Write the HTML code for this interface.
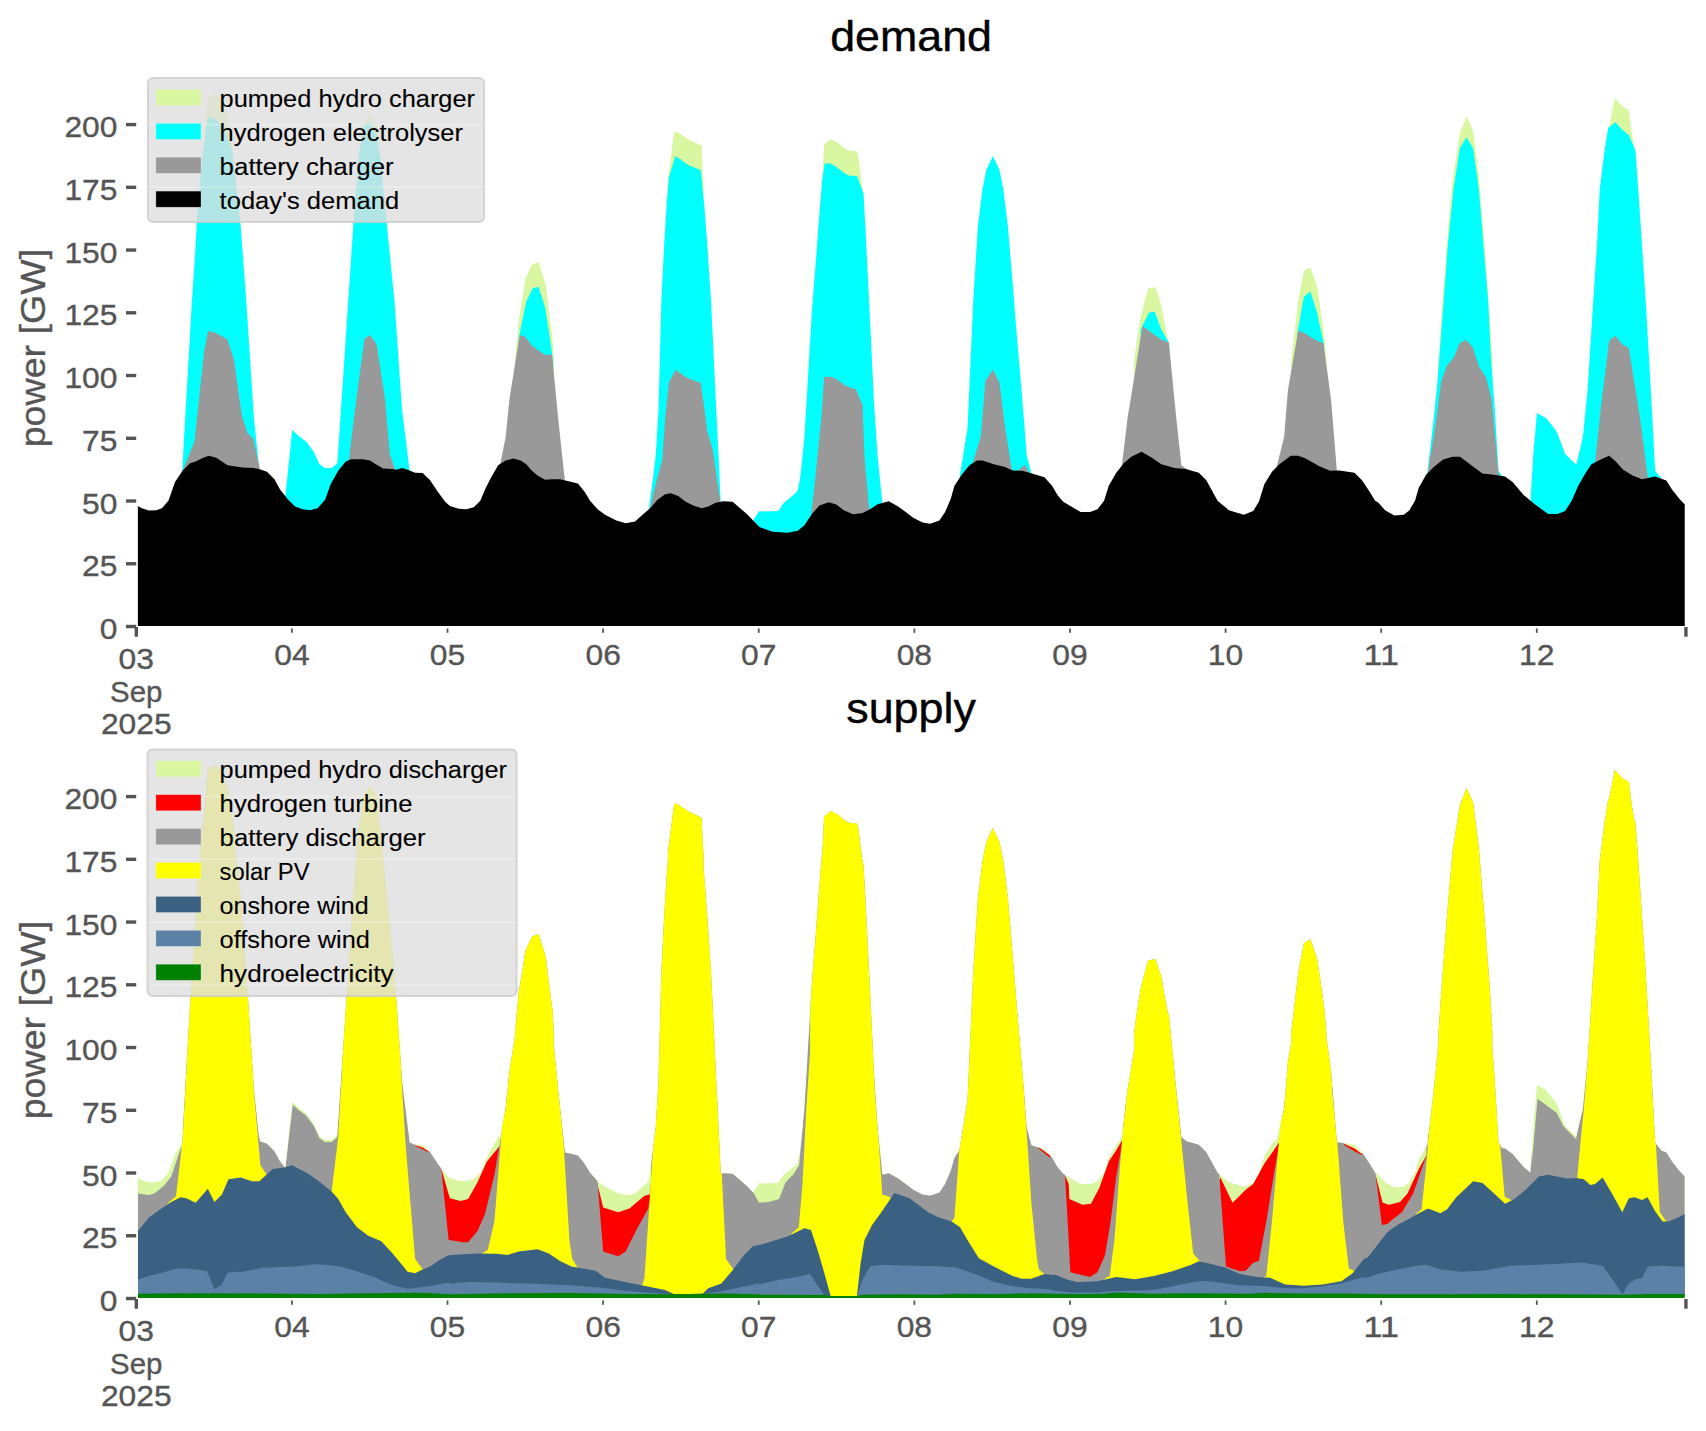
<!DOCTYPE html>
<html><head><meta charset="utf-8"><style>
html,body{margin:0;padding:0;background:#fff;}
svg{display:block;font-family:"Liberation Sans", sans-serif;}
</style></head><body>
<svg width="1706" height="1431" viewBox="0 0 1706 1431">
<rect width="1706" height="1431" fill="#fff"/>
<path d="M202.90,624.50 L202.90,157.70 L206.20,116.30 L207.90,96.20 L214.00,93.70 L218.50,96.20 L223.60,106.30 L228.00,118.60 L231.40,140.90 L234.70,163.30 L234.70,624.50 Z" fill="#D9F7A0"/>
<path d="M361.65,624.50 L361.65,127.83 L370.09,113.76 L377.97,127.83 L377.97,624.50 Z" fill="#D9F7A0"/>
<path d="M515.03,624.50 L515.03,361.35 L518.78,320.09 L522.53,297.58 L525.35,278.82 L531.91,264.75 L538.48,261.94 L542.23,273.19 L545.98,286.32 L548.79,310.71 L552.54,338.85 L553.86,361.35 L553.86,624.50 Z" fill="#D9F7A0"/>
<path d="M667.90,624.50 L667.90,181.28 L674.09,132.51 L676.34,131.58 L689.47,140.02 L701.66,145.64 L702.60,170.03 L703.54,183.16 L703.54,624.50 Z" fill="#D9F7A0"/>
<path d="M822.22,624.50 L822.22,185.04 L824.09,144.71 L830.66,139.08 L838.16,142.83 L844.72,148.46 L850.35,150.90 L856.92,151.27 L858.42,156.90 L861.61,183.16 L863.48,193.48 L863.48,624.50 Z" fill="#D9F7A0"/>
<path d="M1134.09,624.50 L1134.09,361.35 L1135.97,346.35 L1140.66,316.34 L1148.16,288.20 L1155.66,287.26 L1161.29,305.08 L1165.04,325.72 L1168.79,346.35 L1170.67,361.35 L1170.67,624.50 Z" fill="#D9F7A0"/>
<path d="M1291.09,624.50 L1291.09,361.35 L1298.22,301.33 L1303.85,271.32 L1310.41,267.19 L1316.98,286.32 L1320.73,310.71 L1324.48,338.85 L1326.35,361.35 L1326.35,624.50 Z" fill="#D9F7A0"/>
<path d="M1438.46,624.50 L1438.46,361.35 L1441.28,320.09 L1446.91,245.06 L1452.53,179.41 L1460.04,132.51 L1466.60,116.01 L1473.17,130.64 L1478.79,175.66 L1484.42,245.06 L1490.05,320.09 L1492.30,361.35 L1492.30,624.50 Z" fill="#D9F7A0"/>
<path d="M1608.59,624.50 L1608.59,130.64 L1609.16,126.89 L1614.78,97.81 L1622.29,106.25 L1628.85,110.01 L1631.66,132.51 L1634.48,149.40 L1634.85,151.27 L1634.85,624.50 Z" fill="#D9F7A0"/>
<path d="M181.02,624.50 L181.02,474.54 L182.15,470.79 L191.90,301.33 L194.71,260.06 L197.53,211.30 L202.22,156.90 L207.84,117.13 L214.03,118.45 L220.60,124.07 L227.16,136.27 L232.23,151.27 L235.04,173.78 L240.67,226.30 L246.30,301.33 L253.80,416.40 L259.80,474.54 L259.80,624.50 Z" fill="#00FFFF"/>
<path d="M284.94,624.50 L284.94,497.05 L285.69,493.30 L292.25,429.90 L298.82,436.09 L306.32,441.72 L313.82,452.04 L319.45,464.23 L325.08,467.98 L331.64,467.98 L337.27,463.29 L339.14,437.03 L347.58,310.71 L353.21,226.30 L358.84,155.02 L364.47,125.01 L370.09,122.20 L375.72,132.51 L380.41,156.90 L386.98,226.30 L394.48,301.33 L401.98,408.89 L409.86,472.67 L409.86,624.50 Z" fill="#00FFFF"/>
<path d="M518.78,624.50 L518.78,338.85 L519.72,333.22 L526.28,301.33 L532.85,288.20 L538.48,286.70 L545.04,306.96 L548.79,331.34 L552.17,353.85 L553.11,361.35 L553.11,624.50 Z" fill="#00FFFF"/>
<path d="M648.58,624.50 L648.58,512.06 L655.71,455.79 L658.52,408.89 L661.34,301.33 L664.15,245.06 L666.96,200.04 L668.84,177.53 L675.40,155.96 L688.53,165.34 L700.73,170.03 L704.48,207.54 L707.29,245.06 L711.04,301.33 L716.67,418.27 L719.48,474.54 L720.80,504.56 L720.80,624.50 Z" fill="#00FFFF"/>
<path d="M751.88,624.50 L751.88,522.38 L759.38,511.12 L763.13,511.50 L778.14,511.12 L783.76,502.68 L793.14,495.18 L797.83,490.49 L800.64,474.54 L804.40,437.03 L807.21,390.14 L811.90,310.71 L815.65,263.82 L818.46,226.30 L822.22,179.41 L824.65,163.46 L830.66,163.46 L838.16,168.15 L843.79,172.84 L849.41,175.66 L856.92,176.03 L863.48,193.48 L865.36,226.30 L868.17,282.57 L870.98,338.85 L873.80,399.51 L877.55,455.79 L882.24,501.74 L883.55,506.43 L883.55,624.50 Z" fill="#00FFFF"/>
<path d="M959.14,624.50 L959.14,480.17 L967.58,427.65 L973.21,301.33 L977.90,226.30 L982.59,188.79 L986.34,170.03 L992.91,155.96 L999.47,170.03 L1003.22,188.79 L1007.91,226.30 L1012.60,282.57 L1016.35,329.47 L1023.86,418.27 L1026.67,455.79 L1031.74,474.54 L1031.74,624.50 Z" fill="#00FFFF"/>
<path d="M1140.66,624.50 L1140.66,331.34 L1141.59,327.59 L1149.10,312.58 L1154.72,311.65 L1161.29,329.47 L1168.42,341.66 L1169.17,344.47 L1169.17,624.50 Z" fill="#00FFFF"/>
<path d="M1297.28,624.50 L1297.28,334.16 L1297.84,331.34 L1303.85,296.64 L1310.41,291.58 L1316.98,312.58 L1323.54,342.60 L1324.10,345.41 L1324.10,624.50 Z" fill="#00FFFF"/>
<path d="M1427.21,624.50 L1427.21,474.54 L1433.77,418.27 L1437.53,380.76 L1442.22,320.09 L1447.84,245.06 L1453.47,188.79 L1460.04,147.52 L1466.60,137.20 L1473.17,148.46 L1478.79,188.79 L1483.48,245.06 L1488.17,301.33 L1490.98,357.60 L1494.74,408.89 L1498.49,470.79 L1501.68,475.48 L1501.68,624.50 Z" fill="#00FFFF"/>
<path d="M1530.38,624.50 L1530.38,502.68 L1533.19,455.79 L1536.94,413.02 L1546.32,418.27 L1556.64,431.40 L1565.08,453.91 L1576.33,464.79 L1582.90,437.03 L1587.58,390.14 L1593.21,301.33 L1596.96,245.06 L1599.78,188.79 L1604.47,151.27 L1608.22,127.83 L1615.35,122.20 L1622.29,129.70 L1628.85,135.33 L1635.42,150.33 L1638.23,188.79 L1641.98,245.06 L1645.73,301.33 L1651.36,399.51 L1655.11,470.79 L1661.11,478.30 L1661.11,624.50 Z" fill="#00FFFF"/>
<path d="M181.50,624.50 L181.50,475.00 L182.30,471.50 L194.50,441.50 L200.00,389.70 L204.10,351.60 L208.10,331.10 L215.00,332.50 L227.20,339.30 L234.00,359.80 L238.10,389.70 L242.20,417.00 L247.70,433.30 L253.10,438.80 L259.90,468.70 L260.50,475.00 L260.50,624.50 Z" fill="#999999"/>
<path d="M348.52,624.50 L348.52,462.35 L355.09,408.89 L364.47,338.85 L370.09,335.09 L376.66,344.47 L385.10,399.51 L389.79,453.91 L395.79,471.73 L395.79,624.50 Z" fill="#999999"/>
<path d="M499.65,624.50 L499.65,467.04 L505.65,437.03 L509.40,399.51 L519.72,334.72 L525.35,337.34 L532.29,345.97 L545.42,355.35 L551.98,354.23 L558.17,418.27 L563.80,470.79 L565.11,482.05 L565.11,624.50 Z" fill="#999999"/>
<path d="M649.14,624.50 L649.14,512.06 L655.71,483.92 L662.27,459.54 L665.09,418.27 L668.84,382.63 L675.40,369.88 L687.60,377.94 L700.73,383.01 L704.48,408.89 L707.29,431.40 L712.92,450.16 L717.61,483.92 L720.80,504.56 L720.80,624.50 Z" fill="#999999"/>
<path d="M810.96,624.50 L810.96,515.81 L815.65,474.54 L821.28,418.27 L824.09,377.01 L830.66,376.63 L836.28,378.88 L843.79,384.51 L851.29,388.26 L855.98,389.20 L862.54,405.14 L864.42,455.79 L869.48,512.06 L869.48,624.50 Z" fill="#999999"/>
<path d="M972.27,624.50 L972.27,464.23 L980.72,437.03 L985.40,380.76 L992.91,369.50 L999.47,382.63 L1005.10,427.65 L1012.04,470.79 L1018.23,470.79 L1024.79,464.79 L1029.86,473.61 L1029.86,624.50 Z" fill="#999999"/>
<path d="M1121.90,624.50 L1121.90,465.17 L1127.53,418.27 L1142.53,326.09 L1153.79,334.16 L1161.29,339.78 L1168.79,342.22 L1176.30,418.27 L1181.36,465.17 L1187.55,469.85 L1187.55,624.50 Z" fill="#999999"/>
<path d="M1276.65,624.50 L1276.65,467.04 L1284.15,437.03 L1287.90,390.14 L1298.22,330.40 L1303.85,332.84 L1315.10,339.78 L1323.54,343.53 L1331.04,399.51 L1337.05,472.67 L1337.05,624.50 Z" fill="#999999"/>
<path d="M1426.50,624.50 L1426.50,480.00 L1427.80,472.00 L1434.50,431.70 L1439.00,398.20 L1441.20,381.50 L1446.80,365.80 L1453.50,358.00 L1459.70,342.90 L1465.80,340.10 L1472.50,346.80 L1479.20,366.90 L1485.90,377.00 L1491.50,398.20 L1498.20,470.80 L1500.00,478.00 L1500.00,624.50 Z" fill="#999999"/>
<path d="M1595.09,624.50 L1595.09,462.35 L1600.72,408.89 L1609.16,340.72 L1615.35,335.66 L1622.29,344.47 L1628.85,348.22 L1640.11,418.27 L1647.98,478.30 L1647.98,624.50 Z" fill="#999999"/>
<path d="M137.88,626.00 L137.88,506.06 L141.25,507.93 L148.76,510.56 L156.26,510.18 L161.89,508.31 L168.45,500.80 L175.02,482.05 L182.52,470.79 L190.02,463.29 L195.65,461.41 L203.15,457.66 L208.78,455.79 L216.28,457.66 L227.54,465.17 L242.54,467.42 L253.80,467.98 L261.30,469.85 L266.93,471.73 L274.43,479.23 L280.06,489.55 L287.56,498.93 L295.06,506.43 L302.57,509.25 L310.07,510.18 L317.57,508.31 L325.08,499.87 L330.70,483.92 L338.21,470.79 L345.71,461.41 L351.34,459.16 L362.59,459.16 L370.09,460.48 L375.72,464.23 L383.22,468.54 L392.60,468.92 L396.35,469.85 L401.98,467.98 L407.61,469.85 L415.11,472.67 L422.61,473.04 L430.12,480.17 L437.62,491.43 L445.12,501.74 L449.94,506.06 L458.76,508.68 L466.26,509.25 L473.76,507.37 L480.33,500.80 L485.02,489.55 L490.64,478.30 L498.15,465.17 L505.65,460.48 L513.15,458.60 L520.66,460.48 L526.28,464.23 L531.91,470.79 L537.54,475.48 L545.04,479.80 L552.54,479.23 L560.05,479.23 L567.55,481.11 L577.87,483.55 L584.43,491.43 L590.06,500.80 L597.56,509.25 L605.06,514.87 L616.32,520.50 L625.70,523.31 L635.08,521.44 L642.58,514.87 L650.08,508.31 L657.58,499.87 L665.09,494.24 L670.72,493.30 L678.22,496.11 L685.72,501.74 L693.22,505.49 L701.66,508.31 L708.23,506.43 L715.73,502.68 L723.24,501.18 L732.61,501.74 L740.12,508.31 L747.62,514.87 L759.38,527.06 L772.51,531.75 L787.51,532.69 L797.83,530.82 L804.40,525.19 L811.90,513.93 L819.40,505.49 L828.78,502.30 L836.28,504.56 L843.79,510.18 L853.17,514.31 L862.54,513.00 L870.05,509.25 L877.55,504.18 L888.80,501.18 L898.18,506.43 L905.69,512.06 L913.19,517.69 L922.57,522.38 L930.07,523.69 L939.45,520.50 L945.08,512.06 L950.70,498.93 L954.45,485.80 L961.96,474.54 L969.46,465.17 L976.96,460.48 L982.59,460.48 L993.85,464.23 L1005.10,467.04 L1012.60,470.42 L1021.98,470.79 L1029.48,472.67 L1035.11,474.54 L1044.49,477.36 L1051.99,485.80 L1057.62,495.18 L1063.25,501.74 L1071.25,506.43 L1080.63,512.06 L1090.01,512.06 L1097.51,509.25 L1104.08,500.80 L1108.77,485.80 L1116.27,472.67 L1123.77,463.29 L1131.28,456.72 L1141.59,451.66 L1151.91,457.66 L1161.29,464.23 L1174.42,467.98 L1185.67,468.92 L1198.80,472.67 L1206.31,480.17 L1217.56,500.80 L1228.82,510.18 L1243.82,514.87 L1253.20,511.12 L1258.83,501.74 L1264.45,483.92 L1271.96,471.73 L1279.46,464.23 L1290.72,455.79 L1298.22,455.79 L1305.72,458.60 L1318.85,466.10 L1330.11,470.79 L1339.48,470.42 L1354.49,472.67 L1361.99,480.17 L1369.50,491.43 L1375.12,500.80 L1378.44,502.68 L1385.01,510.18 L1394.38,515.43 L1403.76,514.87 L1409.39,510.18 L1415.02,500.80 L1418.77,487.67 L1426.27,474.54 L1433.77,467.04 L1443.15,459.54 L1452.53,456.72 L1460.04,456.72 L1471.29,465.17 L1482.54,473.61 L1491.92,474.54 L1505.05,476.42 L1512.56,482.05 L1523.81,495.18 L1535.06,504.56 L1548.19,513.93 L1557.57,513.93 L1565.08,511.12 L1571.64,500.80 L1578.21,485.80 L1585.71,472.67 L1591.34,464.23 L1600.72,459.54 L1609.16,455.79 L1615.72,461.41 L1623.22,469.85 L1632.60,475.48 L1641.98,479.23 L1655.11,476.42 L1666.37,480.55 L1671.99,489.55 L1679.50,498.93 L1684.75,504.56 L1684.75,626.00 Z" fill="#000000"/>
<defs><clipPath id="E"><path d="M202.90,1298.00 L202.90,829.70 L206.20,788.30 L207.90,768.20 L214.00,765.70 L218.50,768.20 L223.60,778.30 L228.00,790.60 L231.40,812.90 L234.70,835.30 L234.70,1298.00 Z"/><path d="M361.65,1298.00 L361.65,799.83 L370.09,785.76 L377.97,799.83 L377.97,1298.00 Z"/><path d="M515.03,1298.00 L515.03,1033.35 L518.78,992.09 L522.53,969.58 L525.35,950.82 L531.91,936.75 L538.48,933.94 L542.23,945.19 L545.98,958.32 L548.79,982.71 L552.54,1010.85 L553.86,1033.35 L553.86,1298.00 Z"/><path d="M667.90,1298.00 L667.90,853.28 L674.09,804.51 L676.34,803.58 L689.47,812.02 L701.66,817.64 L702.60,842.03 L703.54,855.16 L703.54,1298.00 Z"/><path d="M822.22,1298.00 L822.22,857.04 L824.09,816.71 L830.66,811.08 L838.16,814.83 L844.72,820.46 L850.35,822.90 L856.92,823.27 L858.42,828.90 L861.61,855.16 L863.48,865.48 L863.48,1298.00 Z"/><path d="M1134.09,1298.00 L1134.09,1033.35 L1135.97,1018.35 L1140.66,988.34 L1148.16,960.20 L1155.66,959.26 L1161.29,977.08 L1165.04,997.72 L1168.79,1018.35 L1170.67,1033.35 L1170.67,1298.00 Z"/><path d="M1291.09,1298.00 L1291.09,1033.35 L1298.22,973.33 L1303.85,943.32 L1310.41,939.19 L1316.98,958.32 L1320.73,982.71 L1324.48,1010.85 L1326.35,1033.35 L1326.35,1298.00 Z"/><path d="M1438.46,1298.00 L1438.46,1033.35 L1441.28,992.09 L1446.91,917.06 L1452.53,851.41 L1460.04,804.51 L1466.60,788.01 L1473.17,802.64 L1478.79,847.66 L1484.42,917.06 L1490.05,992.09 L1492.30,1033.35 L1492.30,1298.00 Z"/><path d="M1608.59,1298.00 L1608.59,802.64 L1609.16,798.89 L1614.78,769.81 L1622.29,778.25 L1628.85,782.01 L1631.66,804.51 L1634.48,821.40 L1634.85,823.27 L1634.85,1298.00 Z"/><path d="M181.02,1298.00 L181.02,1146.54 L182.15,1142.79 L191.90,973.33 L194.71,932.06 L197.53,883.30 L202.22,828.90 L207.84,789.13 L214.03,790.45 L220.60,796.07 L227.16,808.27 L232.23,823.27 L235.04,845.78 L240.67,898.30 L246.30,973.33 L253.80,1088.40 L259.80,1146.54 L259.80,1298.00 Z"/><path d="M284.94,1298.00 L284.94,1169.05 L285.69,1165.30 L292.25,1101.90 L298.82,1108.09 L306.32,1113.72 L313.82,1124.04 L319.45,1136.23 L325.08,1139.98 L331.64,1139.98 L337.27,1135.29 L339.14,1109.03 L347.58,982.71 L353.21,898.30 L358.84,827.02 L364.47,797.01 L370.09,794.20 L375.72,804.51 L380.41,828.90 L386.98,898.30 L394.48,973.33 L401.98,1080.89 L409.86,1144.67 L409.86,1298.00 Z"/><path d="M518.78,1298.00 L518.78,1010.85 L519.72,1005.22 L526.28,973.33 L532.85,960.20 L538.48,958.70 L545.04,978.96 L548.79,1003.34 L552.17,1025.85 L553.11,1033.35 L553.11,1298.00 Z"/><path d="M648.58,1298.00 L648.58,1184.06 L655.71,1127.79 L658.52,1080.89 L661.34,973.33 L664.15,917.06 L666.96,872.04 L668.84,849.53 L675.40,827.96 L688.53,837.34 L700.73,842.03 L704.48,879.54 L707.29,917.06 L711.04,973.33 L716.67,1090.27 L719.48,1146.54 L720.80,1176.56 L720.80,1298.00 Z"/><path d="M751.88,1298.00 L751.88,1194.38 L759.38,1183.12 L763.13,1183.50 L778.14,1183.12 L783.76,1174.68 L793.14,1167.18 L797.83,1162.49 L800.64,1146.54 L804.40,1109.03 L807.21,1062.14 L811.90,982.71 L815.65,935.82 L818.46,898.30 L822.22,851.41 L824.65,835.46 L830.66,835.46 L838.16,840.15 L843.79,844.84 L849.41,847.66 L856.92,848.03 L863.48,865.48 L865.36,898.30 L868.17,954.57 L870.98,1010.85 L873.80,1071.51 L877.55,1127.79 L882.24,1173.74 L883.55,1178.43 L883.55,1298.00 Z"/><path d="M959.14,1298.00 L959.14,1152.17 L967.58,1099.65 L973.21,973.33 L977.90,898.30 L982.59,860.79 L986.34,842.03 L992.91,827.96 L999.47,842.03 L1003.22,860.79 L1007.91,898.30 L1012.60,954.57 L1016.35,1001.47 L1023.86,1090.27 L1026.67,1127.79 L1031.74,1146.54 L1031.74,1298.00 Z"/><path d="M1140.66,1298.00 L1140.66,1003.34 L1141.59,999.59 L1149.10,984.58 L1154.72,983.65 L1161.29,1001.47 L1168.42,1013.66 L1169.17,1016.47 L1169.17,1298.00 Z"/><path d="M1297.28,1298.00 L1297.28,1006.16 L1297.84,1003.34 L1303.85,968.64 L1310.41,963.58 L1316.98,984.58 L1323.54,1014.60 L1324.10,1017.41 L1324.10,1298.00 Z"/><path d="M1427.21,1298.00 L1427.21,1146.54 L1433.77,1090.27 L1437.53,1052.76 L1442.22,992.09 L1447.84,917.06 L1453.47,860.79 L1460.04,819.52 L1466.60,809.20 L1473.17,820.46 L1478.79,860.79 L1483.48,917.06 L1488.17,973.33 L1490.98,1029.60 L1494.74,1080.89 L1498.49,1142.79 L1501.68,1147.48 L1501.68,1298.00 Z"/><path d="M1530.38,1298.00 L1530.38,1174.68 L1533.19,1127.79 L1536.94,1085.02 L1546.32,1090.27 L1556.64,1103.40 L1565.08,1125.91 L1576.33,1136.79 L1582.90,1109.03 L1587.58,1062.14 L1593.21,973.33 L1596.96,917.06 L1599.78,860.79 L1604.47,823.27 L1608.22,799.83 L1615.35,794.20 L1622.29,801.70 L1628.85,807.33 L1635.42,822.33 L1638.23,860.79 L1641.98,917.06 L1645.73,973.33 L1651.36,1071.51 L1655.11,1142.79 L1661.11,1150.30 L1661.11,1298.00 Z"/><path d="M181.50,1298.00 L181.50,1147.00 L182.30,1143.50 L194.50,1113.50 L200.00,1061.70 L204.10,1023.60 L208.10,1003.10 L215.00,1004.50 L227.20,1011.30 L234.00,1031.80 L238.10,1061.70 L242.20,1089.00 L247.70,1105.30 L253.10,1110.80 L259.90,1140.70 L260.50,1147.00 L260.50,1298.00 Z"/><path d="M348.52,1298.00 L348.52,1134.35 L355.09,1080.89 L364.47,1010.85 L370.09,1007.09 L376.66,1016.47 L385.10,1071.51 L389.79,1125.91 L395.79,1143.73 L395.79,1298.00 Z"/><path d="M499.65,1298.00 L499.65,1139.04 L505.65,1109.03 L509.40,1071.51 L519.72,1006.72 L525.35,1009.34 L532.29,1017.97 L545.42,1027.35 L551.98,1026.23 L558.17,1090.27 L563.80,1142.79 L565.11,1154.05 L565.11,1298.00 Z"/><path d="M649.14,1298.00 L649.14,1184.06 L655.71,1155.92 L662.27,1131.54 L665.09,1090.27 L668.84,1054.63 L675.40,1041.88 L687.60,1049.94 L700.73,1055.01 L704.48,1080.89 L707.29,1103.40 L712.92,1122.16 L717.61,1155.92 L720.80,1176.56 L720.80,1298.00 Z"/><path d="M810.96,1298.00 L810.96,1187.81 L815.65,1146.54 L821.28,1090.27 L824.09,1049.01 L830.66,1048.63 L836.28,1050.88 L843.79,1056.51 L851.29,1060.26 L855.98,1061.20 L862.54,1077.14 L864.42,1127.79 L869.48,1184.06 L869.48,1298.00 Z"/><path d="M972.27,1298.00 L972.27,1136.23 L980.72,1109.03 L985.40,1052.76 L992.91,1041.50 L999.47,1054.63 L1005.10,1099.65 L1012.04,1142.79 L1018.23,1142.79 L1024.79,1136.79 L1029.86,1145.61 L1029.86,1298.00 Z"/><path d="M1121.90,1298.00 L1121.90,1137.17 L1127.53,1090.27 L1142.53,998.09 L1153.79,1006.16 L1161.29,1011.78 L1168.79,1014.22 L1176.30,1090.27 L1181.36,1137.17 L1187.55,1141.85 L1187.55,1298.00 Z"/><path d="M1276.65,1298.00 L1276.65,1139.04 L1284.15,1109.03 L1287.90,1062.14 L1298.22,1002.40 L1303.85,1004.84 L1315.10,1011.78 L1323.54,1015.53 L1331.04,1071.51 L1337.05,1144.67 L1337.05,1298.00 Z"/><path d="M1426.50,1298.00 L1426.50,1152.00 L1427.80,1144.00 L1434.50,1103.70 L1439.00,1070.20 L1441.20,1053.50 L1446.80,1037.80 L1453.50,1030.00 L1459.70,1014.90 L1465.80,1012.10 L1472.50,1018.80 L1479.20,1038.90 L1485.90,1049.00 L1491.50,1070.20 L1498.20,1142.80 L1500.00,1150.00 L1500.00,1298.00 Z"/><path d="M1595.09,1298.00 L1595.09,1134.35 L1600.72,1080.89 L1609.16,1012.72 L1615.35,1007.66 L1622.29,1016.47 L1628.85,1020.22 L1640.11,1090.27 L1647.98,1150.30 L1647.98,1298.00 Z"/><path d="M137.88,1298.00 L137.88,1178.06 L141.25,1179.93 L148.76,1182.56 L156.26,1182.18 L161.89,1180.31 L168.45,1172.80 L175.02,1154.05 L182.52,1142.79 L190.02,1135.29 L195.65,1133.41 L203.15,1129.66 L208.78,1127.79 L216.28,1129.66 L227.54,1137.17 L242.54,1139.42 L253.80,1139.98 L261.30,1141.85 L266.93,1143.73 L274.43,1151.23 L280.06,1161.55 L287.56,1170.93 L295.06,1178.43 L302.57,1181.25 L310.07,1182.18 L317.57,1180.31 L325.08,1171.87 L330.70,1155.92 L338.21,1142.79 L345.71,1133.41 L351.34,1131.16 L362.59,1131.16 L370.09,1132.48 L375.72,1136.23 L383.22,1140.54 L392.60,1140.92 L396.35,1141.85 L401.98,1139.98 L407.61,1141.85 L415.11,1144.67 L422.61,1145.04 L430.12,1152.17 L437.62,1163.43 L445.12,1173.74 L449.94,1178.06 L458.76,1180.68 L466.26,1181.25 L473.76,1179.37 L480.33,1172.80 L485.02,1161.55 L490.64,1150.30 L498.15,1137.17 L505.65,1132.48 L513.15,1130.60 L520.66,1132.48 L526.28,1136.23 L531.91,1142.79 L537.54,1147.48 L545.04,1151.80 L552.54,1151.23 L560.05,1151.23 L567.55,1153.11 L577.87,1155.55 L584.43,1163.43 L590.06,1172.80 L597.56,1181.25 L605.06,1186.87 L616.32,1192.50 L625.70,1195.31 L635.08,1193.44 L642.58,1186.87 L650.08,1180.31 L657.58,1171.87 L665.09,1166.24 L670.72,1165.30 L678.22,1168.11 L685.72,1173.74 L693.22,1177.49 L701.66,1180.31 L708.23,1178.43 L715.73,1174.68 L723.24,1173.18 L732.61,1173.74 L740.12,1180.31 L747.62,1186.87 L759.38,1199.06 L772.51,1203.75 L787.51,1204.69 L797.83,1202.82 L804.40,1197.19 L811.90,1185.93 L819.40,1177.49 L828.78,1174.30 L836.28,1176.56 L843.79,1182.18 L853.17,1186.31 L862.54,1185.00 L870.05,1181.25 L877.55,1176.18 L888.80,1173.18 L898.18,1178.43 L905.69,1184.06 L913.19,1189.69 L922.57,1194.38 L930.07,1195.69 L939.45,1192.50 L945.08,1184.06 L950.70,1170.93 L954.45,1157.80 L961.96,1146.54 L969.46,1137.17 L976.96,1132.48 L982.59,1132.48 L993.85,1136.23 L1005.10,1139.04 L1012.60,1142.42 L1021.98,1142.79 L1029.48,1144.67 L1035.11,1146.54 L1044.49,1149.36 L1051.99,1157.80 L1057.62,1167.18 L1063.25,1173.74 L1071.25,1178.43 L1080.63,1184.06 L1090.01,1184.06 L1097.51,1181.25 L1104.08,1172.80 L1108.77,1157.80 L1116.27,1144.67 L1123.77,1135.29 L1131.28,1128.72 L1141.59,1123.66 L1151.91,1129.66 L1161.29,1136.23 L1174.42,1139.98 L1185.67,1140.92 L1198.80,1144.67 L1206.31,1152.17 L1217.56,1172.80 L1228.82,1182.18 L1243.82,1186.87 L1253.20,1183.12 L1258.83,1173.74 L1264.45,1155.92 L1271.96,1143.73 L1279.46,1136.23 L1290.72,1127.79 L1298.22,1127.79 L1305.72,1130.60 L1318.85,1138.10 L1330.11,1142.79 L1339.48,1142.42 L1354.49,1144.67 L1361.99,1152.17 L1369.50,1163.43 L1375.12,1172.80 L1378.44,1174.68 L1385.01,1182.18 L1394.38,1187.43 L1403.76,1186.87 L1409.39,1182.18 L1415.02,1172.80 L1418.77,1159.67 L1426.27,1146.54 L1433.77,1139.04 L1443.15,1131.54 L1452.53,1128.72 L1460.04,1128.72 L1471.29,1137.17 L1482.54,1145.61 L1491.92,1146.54 L1505.05,1148.42 L1512.56,1154.05 L1523.81,1167.18 L1535.06,1176.56 L1548.19,1185.93 L1557.57,1185.93 L1565.08,1183.12 L1571.64,1172.80 L1578.21,1157.80 L1585.71,1144.67 L1591.34,1136.23 L1600.72,1131.54 L1609.16,1127.79 L1615.72,1133.41 L1623.22,1141.85 L1632.60,1147.48 L1641.98,1151.23 L1655.11,1148.42 L1666.37,1152.55 L1671.99,1161.55 L1679.50,1170.93 L1684.75,1176.56 L1684.75,1298.00 Z"/></clipPath></defs>
<g clip-path="url(#E)">
<rect x="130" y="700" width="1570" height="600" fill="#D9F7A0"/>
<path d="M413.24,1296.50 L413.24,1147.48 L415.11,1145.23 L422.61,1147.48 L429.18,1151.80 L430.12,1154.98 L430.12,1296.50 Z" fill="#FF0000"/>
<path d="M440.43,1296.50 L440.43,1178.43 L441.37,1168.68 L448.69,1194.38 L449.94,1198.13 L460.63,1200.94 L468.14,1199.06 L477.51,1182.18 L486.89,1161.55 L500.02,1145.61 L504.71,1116.53 L506.03,1099.65 L507.15,1090.27 L507.15,1296.50 Z" fill="#FF0000"/>
<path d="M595.69,1296.50 L595.69,1187.81 L597.19,1183.12 L603.19,1207.51 L618.19,1212.19 L629.45,1208.44 L644.45,1195.69 L649.71,1194.38 L651.02,1184.06 L651.96,1176.56 L651.96,1296.50 Z" fill="#FF0000"/>
<path d="M1036.99,1296.50 L1036.99,1149.36 L1038.86,1147.29 L1050.12,1155.55 L1052.37,1158.74 L1052.37,1296.50 Z" fill="#FF0000"/>
<path d="M1063.62,1296.50 L1063.62,1184.06 L1065.12,1175.62 L1068.69,1184.06 L1069.38,1199.06 L1082.51,1204.69 L1090.95,1203.75 L1099.39,1187.81 L1108.77,1161.55 L1116.27,1150.30 L1122.84,1139.04 L1124.71,1112.78 L1126.03,1090.27 L1126.03,1296.50 Z" fill="#FF0000"/>
<path d="M1218.50,1296.50 L1218.50,1182.18 L1220.38,1177.49 L1232.57,1202.82 L1245.70,1189.69 L1253.20,1184.06 L1264.45,1163.43 L1273.83,1150.30 L1279.46,1141.85 L1283.21,1109.03 L1284.71,1090.27 L1284.71,1296.50 Z" fill="#FF0000"/>
<path d="M1342.30,1296.50 L1342.30,1145.61 L1344.17,1143.73 L1354.49,1148.42 L1361.99,1154.05 L1362.93,1155.92 L1362.93,1296.50 Z" fill="#FF0000"/>
<path d="M1374.50,1296.50 L1374.50,1185.00 L1375.80,1175.80 L1382.50,1202.60 L1388.76,1204.69 L1389.20,1204.80 L1400.01,1201.88 L1407.51,1193.44 L1418.77,1169.05 L1427.21,1154.05 L1429.09,1127.79 L1429.09,1296.50 Z" fill="#FF0000"/>
<path d="M137.88,1296.50 L137.88,1193.44 L148.76,1194.94 L154.38,1193.44 L163.76,1185.93 L171.27,1176.56 L178.77,1154.05 L182.52,1144.67 L186.27,500.00 L282.87,500.00 L284.94,1170.93 L292.81,1104.90 L298.82,1110.15 L306.32,1115.78 L313.82,1126.10 L319.45,1138.29 L325.08,1142.04 L331.64,1142.04 L336.89,1137.73 L338.77,1112.78 L340.46,500.00 L409.48,500.00 L415.11,1145.98 L422.61,1149.36 L429.18,1152.55 L433.87,500.00 L439.50,500.00 L441.37,1169.43 L448.69,1240.33 L449.94,1239.96 L462.51,1242.21 L468.14,1242.21 L477.51,1230.95 L485.02,1214.07 L494.40,1174.68 L503.77,1120.28 L506.59,500.00 L595.69,500.00 L597.56,1182.18 L603.19,1251.58 L618.19,1256.27 L625.70,1251.58 L636.95,1229.08 L648.21,1208.44 L651.02,1193.44 L652.90,500.00 L751.37,500.00 L753.25,1192.50 L758.69,1201.88 L759.38,1202.82 L768.76,1201.88 L779.07,1199.06 L785.64,1182.18 L793.14,1174.68 L799.14,1165.30 L802.52,1127.79 L806.27,1071.51 L808.15,500.00 L1036.99,500.00 L1038.86,1148.79 L1050.12,1157.80 L1053.87,500.00 L1063.25,500.00 L1065.12,1176.93 L1068.69,1240.33 L1070.32,1272.22 L1090.01,1276.91 L1097.51,1272.22 L1105.02,1255.34 L1110.64,1221.57 L1116.27,1176.56 L1122.84,1139.04 L1124.71,500.00 L1217.56,500.00 L1219.44,1176.56 L1226.00,1266.59 L1240.07,1271.28 L1245.70,1270.72 L1253.20,1262.84 L1258.83,1260.96 L1266.33,1221.57 L1273.83,1174.68 L1279.46,1142.79 L1282.27,1112.78 L1284.15,500.00 L1342.30,500.00 L1344.17,1145.04 L1354.49,1151.23 L1361.99,1154.98 L1364.81,500.00 L1373.25,500.00 L1375.80,1176.50 L1381.90,1224.90 L1388.00,1223.80 L1388.76,1222.51 L1401.89,1212.19 L1413.14,1193.44 L1426.27,1155.92 L1428.52,500.00 L1530.38,500.00 L1531.69,1165.30 L1537.50,1098.71 L1546.32,1105.28 L1556.64,1112.78 L1563.20,1125.91 L1576.33,1139.42 L1581.02,500.00 L1684.75,500.00 L1684.75,1296.50 Z" fill="#999999"/>
<path d="M167.51,1296.50 L167.51,1203.75 L170.33,1200.94 L175.96,1196.25 L182.52,1140.92 L186.27,1071.51 L188.15,500.00 L251.92,500.00 L253.80,1090.27 L260.36,1165.30 L266.93,1175.06 L269.74,1177.49 L269.74,1296.50 Z" fill="#FFFF00"/>
<path d="M328.83,1296.50 L328.83,1193.44 L331.64,1191.56 L338.21,1137.17 L341.96,1071.51 L343.83,500.00 L399.17,500.00 L401.04,1071.51 L405.73,1146.54 L410.42,1202.82 L415.11,1259.09 L422.24,1268.84 L424.49,1270.72 L424.49,1296.50 Z" fill="#FFFF00"/>
<path d="M480.33,1296.50 L480.33,1255.34 L482.20,1253.46 L487.83,1249.71 L494.40,1221.57 L501.90,1127.79 L505.65,1099.65 L509.40,1062.14 L511.28,500.00 L554.42,500.00 L558.17,1086.52 L563.80,1146.54 L569.43,1240.33 L572.24,1259.09 L577.87,1268.09 L580.68,1270.72 L580.68,1296.50 Z" fill="#FFFF00"/>
<path d="M640.70,1296.50 L640.70,1286.29 L642.58,1284.41 L644.45,1277.85 L648.21,1221.57 L651.96,1165.30 L655.71,1099.65 L657.58,1052.76 L659.46,500.00 L713.86,500.00 L716.67,1080.89 L721.36,1165.30 L726.05,1259.09 L733.55,1269.40 L735.43,1271.28 L735.43,1296.50 Z" fill="#FFFF00"/>
<path d="M791.27,1296.50 L791.27,1233.77 L798.77,1227.20 L802.52,1184.06 L806.27,1109.03 L810.02,1052.76 L811.90,500.00 L871.92,500.00 L874.74,1090.27 L878.49,1137.17 L882.24,1194.38 L889.18,1196.81 L891.62,1198.69 L891.62,1296.50 Z" fill="#FFFF00"/>
<path d="M949.77,1296.50 L949.77,1223.45 L951.64,1221.57 L954.45,1217.82 L958.21,1165.30 L961.96,1109.03 L965.71,1052.76 L967.58,500.00 L1020.11,500.00 L1023.86,1090.27 L1027.61,1146.54 L1031.36,1202.82 L1036.99,1259.09 L1038.86,1269.40 L1043.55,1273.16 L1045.99,1275.59 L1045.99,1296.50 Z" fill="#FFFF00"/>
<path d="M1104.08,1296.50 L1104.08,1279.72 L1105.96,1277.85 L1109.71,1275.97 L1114.40,1240.33 L1120.02,1165.30 L1124.71,1109.03 L1129.40,1052.76 L1133.15,500.00 L1171.61,500.00 L1174.42,1071.51 L1180.05,1127.79 L1187.55,1202.82 L1193.18,1253.46 L1199.74,1260.96 L1202.18,1263.78 L1202.18,1296.50 Z" fill="#FFFF00"/>
<path d="M1262.58,1296.50 L1262.58,1277.85 L1264.45,1276.91 L1266.33,1275.97 L1271.96,1221.57 L1277.58,1155.92 L1283.21,1099.65 L1289.78,500.00 L1328.23,500.00 L1331.98,1090.27 L1337.61,1146.54 L1343.24,1221.57 L1348.86,1268.47 L1355.43,1271.28 L1358.62,1274.09 L1358.62,1296.50 Z" fill="#FFFF00"/>
<path d="M1415.96,1296.50 L1415.96,1214.07 L1417.83,1212.19 L1421.58,1209.38 L1426.27,1165.30 L1430.02,1118.41 L1433.77,1071.51 L1436.59,500.00 L1492.86,500.00 L1495.67,1090.27 L1499.43,1137.17 L1504.68,1196.81 L1511.06,1200.00 L1512.93,1201.88 L1512.93,1296.50 Z" fill="#FFFF00"/>
<path d="M1573.52,1296.50 L1573.52,1180.31 L1575.39,1178.43 L1577.27,1177.49 L1580.08,1146.54 L1583.83,1109.03 L1587.58,1062.14 L1590.40,500.00 L1649.48,500.00 L1652.30,1090.27 L1656.05,1146.54 L1659.80,1212.19 L1666.37,1221.57 L1668.62,1223.45 L1668.62,1296.50 Z" fill="#FFFF00"/>
<path d="M137.88,1296.50 L137.88,1230.95 L148.76,1217.82 L160.01,1209.38 L171.27,1201.88 L180.64,1197.19 L186.27,1198.13 L195.65,1202.82 L207.84,1188.75 L214.41,1201.88 L221.91,1194.38 L228.48,1179.37 L240.67,1177.49 L251.92,1181.25 L259.43,1181.25 L272.56,1169.05 L283.81,1167.55 L292.25,1165.30 L308.19,1173.74 L317.57,1180.31 L331.64,1191.56 L338.21,1199.06 L345.71,1212.19 L356.96,1227.20 L368.22,1235.64 L381.35,1241.27 L392.60,1253.46 L401.98,1264.72 L407.61,1271.84 L415.11,1273.16 L422.61,1269.40 L430.12,1266.59 L439.50,1260.03 L448.69,1255.34 L449.94,1255.34 L458.76,1254.40 L477.51,1253.46 L496.27,1253.84 L507.53,1254.96 L518.78,1251.58 L537.54,1249.33 L548.79,1253.46 L560.05,1260.96 L571.30,1266.59 L595.69,1270.72 L605.06,1277.85 L627.57,1282.53 L646.33,1286.29 L665.09,1290.04 L674.47,1294.35 L702.60,1293.79 L708.23,1288.16 L721.36,1283.47 L732.61,1270.34 L743.87,1255.34 L753.25,1245.96 L758.69,1245.02 L759.38,1245.02 L768.76,1242.21 L787.51,1236.58 L804.40,1228.14 L810.96,1230.01 L817.53,1249.71 L824.09,1272.22 L830.66,1296.04 L856.92,1296.04 L860.67,1262.84 L864.42,1240.33 L871.92,1225.32 L881.30,1212.19 L894.43,1193.06 L909.44,1198.13 L928.19,1212.19 L937.57,1216.88 L951.64,1221.57 L960.08,1227.20 L967.58,1240.33 L978.84,1258.15 L993.85,1266.59 L1012.60,1275.97 L1021.98,1278.78 L1031.36,1278.78 L1044.49,1274.09 L1053.87,1275.03 L1055.20,1274.80 L1067.70,1279.80 L1077.80,1282.30 L1078.76,1281.97 L1097.51,1281.22 L1116.27,1276.91 L1135.03,1279.35 L1153.79,1275.97 L1172.54,1271.28 L1191.30,1264.72 L1198.80,1261.34 L1210.06,1263.78 L1225.06,1267.53 L1240.07,1274.09 L1256.95,1276.91 L1270.08,1277.85 L1285.09,1284.41 L1303.85,1285.72 L1322.60,1284.41 L1341.36,1281.22 L1352.61,1273.16 L1363.87,1259.09 L1367.90,1257.30 L1379.10,1242.80 L1386.90,1232.70 L1388.76,1230.95 L1398.14,1224.39 L1407.51,1219.70 L1418.77,1213.13 L1428.15,1208.44 L1440.34,1213.13 L1446.91,1209.38 L1456.28,1197.19 L1473.17,1181.25 L1482.54,1183.12 L1491.92,1191.56 L1505.05,1203.75 L1514.43,1199.06 L1525.69,1189.69 L1538.82,1176.56 L1548.19,1174.68 L1566.95,1178.43 L1576.33,1178.06 L1583.83,1179.37 L1590.40,1185.00 L1595.09,1184.06 L1602.59,1177.49 L1611.97,1193.44 L1622.29,1212.19 L1628.85,1198.13 L1634.48,1197.19 L1641.98,1200.00 L1647.61,1197.19 L1655.11,1211.26 L1662.61,1221.57 L1668.24,1221.57 L1677.62,1217.82 L1684.75,1214.07 L1684.75,1296.50 Z" fill="#3B6182"/>
<path d="M137.88,1296.50 L137.88,1279.72 L148.76,1275.97 L160.01,1273.16 L176.89,1268.47 L186.27,1268.47 L206.91,1270.72 L214.41,1289.10 L221.91,1284.41 L227.54,1272.59 L242.54,1271.84 L261.30,1268.09 L280.06,1266.97 L298.82,1266.22 L313.82,1264.34 L326.95,1265.09 L340.08,1266.59 L355.09,1270.72 L373.85,1276.91 L392.60,1285.35 L407.61,1288.72 L420.74,1287.22 L433.87,1285.35 L448.69,1282.53 L449.94,1283.85 L468.14,1281.97 L496.27,1282.53 L533.79,1283.85 L571.30,1285.35 L599.44,1287.60 L627.57,1290.98 L646.33,1292.48 L674.47,1294.35 L702.60,1293.79 L721.36,1291.35 L740.12,1287.22 L758.69,1283.47 L759.38,1284.41 L778.14,1280.10 L796.89,1276.91 L810.02,1274.09 L817.53,1285.35 L824.09,1294.73 L830.66,1296.04 L856.92,1296.04 L862.54,1279.72 L870.05,1266.59 L881.30,1264.72 L909.44,1265.65 L937.57,1266.22 L956.33,1267.53 L975.09,1274.09 L993.85,1281.97 L1012.60,1286.29 L1031.36,1288.16 L1050.12,1289.47 L1051.00,1290.30 L1070.30,1292.40 L1097.51,1292.48 L1108.77,1291.35 L1135.03,1290.60 L1153.79,1290.04 L1172.54,1286.29 L1191.30,1282.53 L1202.56,1280.66 L1219.44,1282.53 L1238.19,1285.35 L1266.33,1286.29 L1285.09,1288.16 L1303.85,1288.16 L1322.60,1286.29 L1341.36,1283.47 L1360.12,1277.85 L1367.90,1277.40 L1379.00,1273.50 L1398.14,1269.40 L1416.89,1265.65 L1426.27,1264.72 L1441.28,1269.40 L1460.04,1271.84 L1482.54,1270.72 L1510.68,1265.65 L1538.82,1264.72 L1557.57,1263.78 L1581.96,1262.46 L1602.59,1265.65 L1613.85,1281.60 L1622.29,1294.35 L1628.85,1283.47 L1636.35,1278.78 L1641.98,1278.41 L1647.61,1266.59 L1662.61,1265.65 L1673.87,1266.59 L1684.75,1266.59 L1684.75,1296.50 Z" fill="#5B82A6"/>
<path d="M137.88,1298.00 L137.88,1293.79 L180.64,1293.23 L261.30,1293.60 L317.57,1293.98 L407.61,1292.85 L422.61,1292.85 L449.94,1294.35 L496.27,1293.41 L571.30,1293.04 L627.57,1293.98 L683.85,1294.35 L721.36,1293.41 L758.69,1294.35 L759.38,1294.73 L825.03,1295.10 L830.66,1296.04 L856.92,1296.04 L862.54,1294.73 L900.06,1294.35 L937.57,1294.73 L956.33,1293.79 L993.85,1294.35 L1021.98,1293.41 L1040.74,1293.41 L1068.69,1293.98 L1069.38,1294.35 L1105.02,1293.79 L1116.27,1292.48 L1153.79,1293.79 L1191.30,1293.23 L1247.57,1293.79 L1266.33,1292.85 L1303.85,1293.41 L1341.36,1293.41 L1378.69,1293.98 L1379.38,1294.35 L1445.03,1294.35 L1501.30,1293.98 L1557.57,1294.35 L1621.35,1294.73 L1651.36,1293.98 L1684.75,1293.98 L1684.75,1298.00 Z" fill="#008000"/>
</g>
<text x="911.10" y="51.30" font-size="43.00" fill="#000" stroke="#000" stroke-width="0.4" text-anchor="middle" textLength="161.76" lengthAdjust="spacingAndGlyphs" >demand</text>
<g transform="translate(45.0,348.10) rotate(-90)"><text x="0.00" y="0.00" font-size="35.30" fill="#555555" stroke="#555555" stroke-width="0.35" text-anchor="middle" textLength="198.52" lengthAdjust="spacingAndGlyphs" >power [GW]</text></g>
<line x1="126" y1="626.50" x2="136.2" y2="626.50" stroke="#555555" stroke-width="3.4"/>
<text x="117.50" y="639.10" font-size="30.20" fill="#555555" stroke="#555555" stroke-width="0.35" text-anchor="end" textLength="17.69" lengthAdjust="spacingAndGlyphs" >0</text>
<line x1="126" y1="563.76" x2="136.2" y2="563.76" stroke="#555555" stroke-width="3.4"/>
<text x="117.50" y="576.36" font-size="30.20" fill="#555555" stroke="#555555" stroke-width="0.35" text-anchor="end" textLength="35.38" lengthAdjust="spacingAndGlyphs" >25</text>
<line x1="126" y1="501.02" x2="136.2" y2="501.02" stroke="#555555" stroke-width="3.4"/>
<text x="117.50" y="513.62" font-size="30.20" fill="#555555" stroke="#555555" stroke-width="0.35" text-anchor="end" textLength="35.38" lengthAdjust="spacingAndGlyphs" >50</text>
<line x1="126" y1="438.28" x2="136.2" y2="438.28" stroke="#555555" stroke-width="3.4"/>
<text x="117.50" y="450.88" font-size="30.20" fill="#555555" stroke="#555555" stroke-width="0.35" text-anchor="end" textLength="35.38" lengthAdjust="spacingAndGlyphs" >75</text>
<line x1="126" y1="375.54" x2="136.2" y2="375.54" stroke="#555555" stroke-width="3.4"/>
<text x="117.50" y="388.14" font-size="30.20" fill="#555555" stroke="#555555" stroke-width="0.35" text-anchor="end" textLength="53.06" lengthAdjust="spacingAndGlyphs" >100</text>
<line x1="126" y1="312.80" x2="136.2" y2="312.80" stroke="#555555" stroke-width="3.4"/>
<text x="117.50" y="325.40" font-size="30.20" fill="#555555" stroke="#555555" stroke-width="0.35" text-anchor="end" textLength="53.06" lengthAdjust="spacingAndGlyphs" >125</text>
<line x1="126" y1="250.06" x2="136.2" y2="250.06" stroke="#555555" stroke-width="3.4"/>
<text x="117.50" y="262.66" font-size="30.20" fill="#555555" stroke="#555555" stroke-width="0.35" text-anchor="end" textLength="53.06" lengthAdjust="spacingAndGlyphs" >150</text>
<line x1="126" y1="187.32" x2="136.2" y2="187.32" stroke="#555555" stroke-width="3.4"/>
<text x="117.50" y="199.92" font-size="30.20" fill="#555555" stroke="#555555" stroke-width="0.35" text-anchor="end" textLength="53.06" lengthAdjust="spacingAndGlyphs" >175</text>
<line x1="126" y1="124.58" x2="136.2" y2="124.58" stroke="#555555" stroke-width="3.4"/>
<text x="117.50" y="137.18" font-size="30.20" fill="#555555" stroke="#555555" stroke-width="0.35" text-anchor="end" textLength="53.06" lengthAdjust="spacingAndGlyphs" >200</text>
<line x1="136.30" y1="627.00" x2="136.30" y2="636.70" stroke="#555555" stroke-width="3.4"/>
<text x="136.30" y="668.90" font-size="30.20" fill="#555555" stroke="#555555" stroke-width="0.35" text-anchor="middle" textLength="35.38" lengthAdjust="spacingAndGlyphs" >03</text>
<text x="136.30" y="702.10" font-size="30.20" fill="#555555" stroke="#555555" stroke-width="0.35" text-anchor="middle" textLength="52.40" lengthAdjust="spacingAndGlyphs" >Sep</text>
<text x="136.30" y="733.70" font-size="30.20" fill="#555555" stroke="#555555" stroke-width="0.35" text-anchor="middle" textLength="70.75" lengthAdjust="spacingAndGlyphs" >2025</text>
<line x1="291.91" y1="628.50" x2="291.91" y2="632.80" stroke="#555555" stroke-width="1.8"/>
<text x="291.91" y="665.20" font-size="30.20" fill="#555555" stroke="#555555" stroke-width="0.35" text-anchor="middle" textLength="35.38" lengthAdjust="spacingAndGlyphs" >04</text>
<line x1="447.52" y1="628.50" x2="447.52" y2="632.80" stroke="#555555" stroke-width="1.8"/>
<text x="447.52" y="665.20" font-size="30.20" fill="#555555" stroke="#555555" stroke-width="0.35" text-anchor="middle" textLength="35.38" lengthAdjust="spacingAndGlyphs" >05</text>
<line x1="603.13" y1="628.50" x2="603.13" y2="632.80" stroke="#555555" stroke-width="1.8"/>
<text x="603.13" y="665.20" font-size="30.20" fill="#555555" stroke="#555555" stroke-width="0.35" text-anchor="middle" textLength="35.38" lengthAdjust="spacingAndGlyphs" >06</text>
<line x1="758.74" y1="628.50" x2="758.74" y2="632.80" stroke="#555555" stroke-width="1.8"/>
<text x="758.74" y="665.20" font-size="30.20" fill="#555555" stroke="#555555" stroke-width="0.35" text-anchor="middle" textLength="35.38" lengthAdjust="spacingAndGlyphs" >07</text>
<line x1="914.36" y1="628.50" x2="914.36" y2="632.80" stroke="#555555" stroke-width="1.8"/>
<text x="914.36" y="665.20" font-size="30.20" fill="#555555" stroke="#555555" stroke-width="0.35" text-anchor="middle" textLength="35.38" lengthAdjust="spacingAndGlyphs" >08</text>
<line x1="1069.97" y1="628.50" x2="1069.97" y2="632.80" stroke="#555555" stroke-width="1.8"/>
<text x="1069.97" y="665.20" font-size="30.20" fill="#555555" stroke="#555555" stroke-width="0.35" text-anchor="middle" textLength="35.38" lengthAdjust="spacingAndGlyphs" >09</text>
<line x1="1225.58" y1="628.50" x2="1225.58" y2="632.80" stroke="#555555" stroke-width="1.8"/>
<text x="1225.58" y="665.20" font-size="30.20" fill="#555555" stroke="#555555" stroke-width="0.35" text-anchor="middle" textLength="35.38" lengthAdjust="spacingAndGlyphs" >10</text>
<line x1="1381.19" y1="628.50" x2="1381.19" y2="632.80" stroke="#555555" stroke-width="1.8"/>
<text x="1381.19" y="665.20" font-size="30.20" fill="#555555" stroke="#555555" stroke-width="0.35" text-anchor="middle" textLength="35.38" lengthAdjust="spacingAndGlyphs" >11</text>
<line x1="1536.80" y1="628.50" x2="1536.80" y2="632.80" stroke="#555555" stroke-width="1.8"/>
<text x="1536.80" y="665.20" font-size="30.20" fill="#555555" stroke="#555555" stroke-width="0.35" text-anchor="middle" textLength="35.38" lengthAdjust="spacingAndGlyphs" >12</text>
<line x1="1685.93" y1="627.00" x2="1685.93" y2="636.70" stroke="#555555" stroke-width="3.4"/>
<rect x="148" y="78" width="336" height="144" rx="5" ry="5" fill="#DEDEDE" fill-opacity="0.8" stroke="#CCCCCC" stroke-opacity="0.8" stroke-width="2"/>
<line x1="148" y1="187.32" x2="484" y2="187.32" stroke="#ffffff" stroke-opacity="0.25" stroke-width="2"/>
<line x1="148" y1="124.58" x2="484" y2="124.58" stroke="#ffffff" stroke-opacity="0.25" stroke-width="2"/>
<rect x="155.9" y="89.40" width="45.1" height="16.1" fill="#D9F7A0" stroke="#EEEEEE" stroke-opacity="0.5" stroke-width="0.6"/>
<text x="219.60" y="106.90" font-size="24.40" fill="#000" stroke="#000" stroke-width="0.1" text-anchor="start" textLength="255.49" lengthAdjust="spacingAndGlyphs" >pumped hydro charger</text>
<rect x="155.9" y="123.30" width="45.1" height="16.1" fill="#00FFFF" stroke="#EEEEEE" stroke-opacity="0.5" stroke-width="0.6"/>
<text x="219.60" y="140.80" font-size="24.40" fill="#000" stroke="#000" stroke-width="0.1" text-anchor="start" textLength="243.37" lengthAdjust="spacingAndGlyphs" >hydrogen electrolyser</text>
<rect x="155.9" y="157.20" width="45.1" height="16.1" fill="#999999" stroke="#EEEEEE" stroke-opacity="0.5" stroke-width="0.6"/>
<text x="219.60" y="174.70" font-size="24.40" fill="#000" stroke="#000" stroke-width="0.1" text-anchor="start" textLength="174.08" lengthAdjust="spacingAndGlyphs" >battery charger</text>
<rect x="155.9" y="191.10" width="45.1" height="16.1" fill="#000000" stroke="#EEEEEE" stroke-opacity="0.5" stroke-width="0.6"/>
<text x="219.60" y="208.60" font-size="24.40" fill="#000" stroke="#000" stroke-width="0.1" text-anchor="start" textLength="179.50" lengthAdjust="spacingAndGlyphs" >today's demand</text>
<text x="911.10" y="723.30" font-size="43.00" fill="#000" stroke="#000" stroke-width="0.4" text-anchor="middle" textLength="129.78" lengthAdjust="spacingAndGlyphs" >supply</text>
<g transform="translate(45.0,1020.10) rotate(-90)"><text x="0.00" y="0.00" font-size="35.30" fill="#555555" stroke="#555555" stroke-width="0.35" text-anchor="middle" textLength="198.52" lengthAdjust="spacingAndGlyphs" >power [GW]</text></g>
<line x1="126" y1="1298.50" x2="136.2" y2="1298.50" stroke="#555555" stroke-width="3.4"/>
<text x="117.50" y="1311.10" font-size="30.20" fill="#555555" stroke="#555555" stroke-width="0.35" text-anchor="end" textLength="17.69" lengthAdjust="spacingAndGlyphs" >0</text>
<line x1="126" y1="1235.76" x2="136.2" y2="1235.76" stroke="#555555" stroke-width="3.4"/>
<text x="117.50" y="1248.36" font-size="30.20" fill="#555555" stroke="#555555" stroke-width="0.35" text-anchor="end" textLength="35.38" lengthAdjust="spacingAndGlyphs" >25</text>
<line x1="126" y1="1173.02" x2="136.2" y2="1173.02" stroke="#555555" stroke-width="3.4"/>
<text x="117.50" y="1185.62" font-size="30.20" fill="#555555" stroke="#555555" stroke-width="0.35" text-anchor="end" textLength="35.38" lengthAdjust="spacingAndGlyphs" >50</text>
<line x1="126" y1="1110.28" x2="136.2" y2="1110.28" stroke="#555555" stroke-width="3.4"/>
<text x="117.50" y="1122.88" font-size="30.20" fill="#555555" stroke="#555555" stroke-width="0.35" text-anchor="end" textLength="35.38" lengthAdjust="spacingAndGlyphs" >75</text>
<line x1="126" y1="1047.54" x2="136.2" y2="1047.54" stroke="#555555" stroke-width="3.4"/>
<text x="117.50" y="1060.14" font-size="30.20" fill="#555555" stroke="#555555" stroke-width="0.35" text-anchor="end" textLength="53.06" lengthAdjust="spacingAndGlyphs" >100</text>
<line x1="126" y1="984.80" x2="136.2" y2="984.80" stroke="#555555" stroke-width="3.4"/>
<text x="117.50" y="997.40" font-size="30.20" fill="#555555" stroke="#555555" stroke-width="0.35" text-anchor="end" textLength="53.06" lengthAdjust="spacingAndGlyphs" >125</text>
<line x1="126" y1="922.06" x2="136.2" y2="922.06" stroke="#555555" stroke-width="3.4"/>
<text x="117.50" y="934.66" font-size="30.20" fill="#555555" stroke="#555555" stroke-width="0.35" text-anchor="end" textLength="53.06" lengthAdjust="spacingAndGlyphs" >150</text>
<line x1="126" y1="859.32" x2="136.2" y2="859.32" stroke="#555555" stroke-width="3.4"/>
<text x="117.50" y="871.92" font-size="30.20" fill="#555555" stroke="#555555" stroke-width="0.35" text-anchor="end" textLength="53.06" lengthAdjust="spacingAndGlyphs" >175</text>
<line x1="126" y1="796.58" x2="136.2" y2="796.58" stroke="#555555" stroke-width="3.4"/>
<text x="117.50" y="809.18" font-size="30.20" fill="#555555" stroke="#555555" stroke-width="0.35" text-anchor="end" textLength="53.06" lengthAdjust="spacingAndGlyphs" >200</text>
<line x1="136.30" y1="1299.00" x2="136.30" y2="1308.70" stroke="#555555" stroke-width="3.4"/>
<text x="136.30" y="1340.90" font-size="30.20" fill="#555555" stroke="#555555" stroke-width="0.35" text-anchor="middle" textLength="35.38" lengthAdjust="spacingAndGlyphs" >03</text>
<text x="136.30" y="1374.10" font-size="30.20" fill="#555555" stroke="#555555" stroke-width="0.35" text-anchor="middle" textLength="52.40" lengthAdjust="spacingAndGlyphs" >Sep</text>
<text x="136.30" y="1405.70" font-size="30.20" fill="#555555" stroke="#555555" stroke-width="0.35" text-anchor="middle" textLength="70.75" lengthAdjust="spacingAndGlyphs" >2025</text>
<line x1="291.91" y1="1300.50" x2="291.91" y2="1304.80" stroke="#555555" stroke-width="1.8"/>
<text x="291.91" y="1337.20" font-size="30.20" fill="#555555" stroke="#555555" stroke-width="0.35" text-anchor="middle" textLength="35.38" lengthAdjust="spacingAndGlyphs" >04</text>
<line x1="447.52" y1="1300.50" x2="447.52" y2="1304.80" stroke="#555555" stroke-width="1.8"/>
<text x="447.52" y="1337.20" font-size="30.20" fill="#555555" stroke="#555555" stroke-width="0.35" text-anchor="middle" textLength="35.38" lengthAdjust="spacingAndGlyphs" >05</text>
<line x1="603.13" y1="1300.50" x2="603.13" y2="1304.80" stroke="#555555" stroke-width="1.8"/>
<text x="603.13" y="1337.20" font-size="30.20" fill="#555555" stroke="#555555" stroke-width="0.35" text-anchor="middle" textLength="35.38" lengthAdjust="spacingAndGlyphs" >06</text>
<line x1="758.74" y1="1300.50" x2="758.74" y2="1304.80" stroke="#555555" stroke-width="1.8"/>
<text x="758.74" y="1337.20" font-size="30.20" fill="#555555" stroke="#555555" stroke-width="0.35" text-anchor="middle" textLength="35.38" lengthAdjust="spacingAndGlyphs" >07</text>
<line x1="914.36" y1="1300.50" x2="914.36" y2="1304.80" stroke="#555555" stroke-width="1.8"/>
<text x="914.36" y="1337.20" font-size="30.20" fill="#555555" stroke="#555555" stroke-width="0.35" text-anchor="middle" textLength="35.38" lengthAdjust="spacingAndGlyphs" >08</text>
<line x1="1069.97" y1="1300.50" x2="1069.97" y2="1304.80" stroke="#555555" stroke-width="1.8"/>
<text x="1069.97" y="1337.20" font-size="30.20" fill="#555555" stroke="#555555" stroke-width="0.35" text-anchor="middle" textLength="35.38" lengthAdjust="spacingAndGlyphs" >09</text>
<line x1="1225.58" y1="1300.50" x2="1225.58" y2="1304.80" stroke="#555555" stroke-width="1.8"/>
<text x="1225.58" y="1337.20" font-size="30.20" fill="#555555" stroke="#555555" stroke-width="0.35" text-anchor="middle" textLength="35.38" lengthAdjust="spacingAndGlyphs" >10</text>
<line x1="1381.19" y1="1300.50" x2="1381.19" y2="1304.80" stroke="#555555" stroke-width="1.8"/>
<text x="1381.19" y="1337.20" font-size="30.20" fill="#555555" stroke="#555555" stroke-width="0.35" text-anchor="middle" textLength="35.38" lengthAdjust="spacingAndGlyphs" >11</text>
<line x1="1536.80" y1="1300.50" x2="1536.80" y2="1304.80" stroke="#555555" stroke-width="1.8"/>
<text x="1536.80" y="1337.20" font-size="30.20" fill="#555555" stroke="#555555" stroke-width="0.35" text-anchor="middle" textLength="35.38" lengthAdjust="spacingAndGlyphs" >12</text>
<line x1="1685.93" y1="1299.00" x2="1685.93" y2="1308.70" stroke="#555555" stroke-width="3.4"/>
<rect x="147.5" y="749.4" width="369.1" height="246.70000000000005" rx="5" ry="5" fill="#DEDEDE" fill-opacity="0.8" stroke="#CCCCCC" stroke-opacity="0.8" stroke-width="2"/>
<line x1="147.5" y1="984.80" x2="516.6" y2="984.80" stroke="#ffffff" stroke-opacity="0.25" stroke-width="2"/>
<line x1="147.5" y1="922.06" x2="516.6" y2="922.06" stroke="#ffffff" stroke-opacity="0.25" stroke-width="2"/>
<line x1="147.5" y1="859.32" x2="516.6" y2="859.32" stroke="#ffffff" stroke-opacity="0.25" stroke-width="2"/>
<line x1="147.5" y1="796.58" x2="516.6" y2="796.58" stroke="#ffffff" stroke-opacity="0.25" stroke-width="2"/>
<rect x="155.9" y="760.80" width="45.1" height="16.1" fill="#D9F7A0" stroke="#EEEEEE" stroke-opacity="0.5" stroke-width="0.6"/>
<text x="219.60" y="778.30" font-size="24.40" fill="#000" stroke="#000" stroke-width="0.1" text-anchor="start" textLength="287.41" lengthAdjust="spacingAndGlyphs" >pumped hydro discharger</text>
<rect x="155.9" y="794.70" width="45.1" height="16.1" fill="#FF0000" stroke="#EEEEEE" stroke-opacity="0.5" stroke-width="0.6"/>
<text x="219.60" y="812.20" font-size="24.40" fill="#000" stroke="#000" stroke-width="0.1" text-anchor="start" textLength="192.84" lengthAdjust="spacingAndGlyphs" >hydrogen turbine</text>
<rect x="155.9" y="828.60" width="45.1" height="16.1" fill="#999999" stroke="#EEEEEE" stroke-opacity="0.5" stroke-width="0.6"/>
<text x="219.60" y="846.10" font-size="24.40" fill="#000" stroke="#000" stroke-width="0.1" text-anchor="start" textLength="206.00" lengthAdjust="spacingAndGlyphs" >battery discharger</text>
<rect x="155.9" y="862.50" width="45.1" height="16.1" fill="#FFFF00" stroke="#EEEEEE" stroke-opacity="0.5" stroke-width="0.6"/>
<text x="219.60" y="880.00" font-size="24.40" fill="#000" stroke="#000" stroke-width="0.1" text-anchor="start" textLength="89.94" lengthAdjust="spacingAndGlyphs" >solar PV</text>
<rect x="155.9" y="896.40" width="45.1" height="16.1" fill="#3B6182" stroke="#EEEEEE" stroke-opacity="0.5" stroke-width="0.6"/>
<text x="219.60" y="913.90" font-size="24.40" fill="#000" stroke="#000" stroke-width="0.1" text-anchor="start" textLength="149.14" lengthAdjust="spacingAndGlyphs" >onshore wind</text>
<rect x="155.9" y="930.30" width="45.1" height="16.1" fill="#5B82A6" stroke="#EEEEEE" stroke-opacity="0.5" stroke-width="0.6"/>
<text x="219.60" y="947.80" font-size="24.40" fill="#000" stroke="#000" stroke-width="0.1" text-anchor="start" textLength="150.37" lengthAdjust="spacingAndGlyphs" >offshore wind</text>
<rect x="155.9" y="964.20" width="45.1" height="16.1" fill="#008000" stroke="#EEEEEE" stroke-opacity="0.5" stroke-width="0.6"/>
<text x="219.60" y="981.70" font-size="24.40" fill="#000" stroke="#000" stroke-width="0.1" text-anchor="start" textLength="173.93" lengthAdjust="spacingAndGlyphs" >hydroelectricity</text>
</svg></body></html>
